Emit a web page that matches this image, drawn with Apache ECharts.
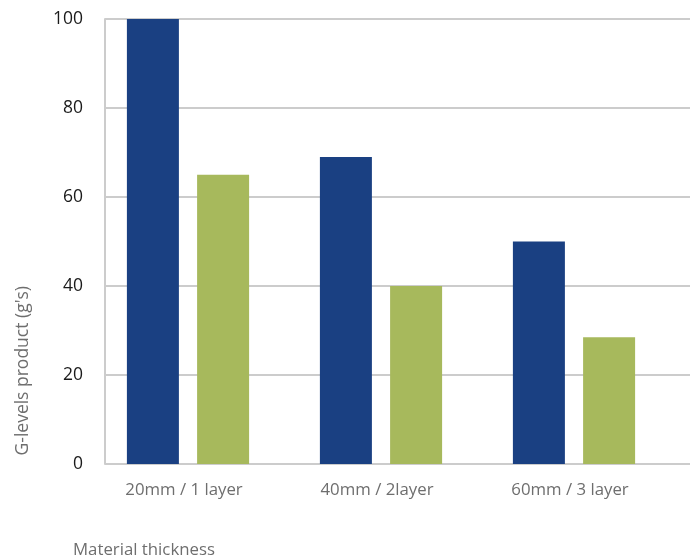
<!DOCTYPE html>
<html>
<head>
<meta charset="utf-8">
<script src="https://cdn.jsdelivr.net/npm/echarts@6/dist/echarts.min.js"></script>
<style>
html,body{margin:0;padding:0;background:#fff;}
#chart{width:694px;height:560px;}
</style>
</head>
<body>
<div id="chart"></div>
<script>
const categories = ['20mm / 1 layer', '40mm / 2layer', '60mm / 3 layer'];
const seriesA = [100, 69, 50];
const seriesB = [65, 40, 28.5];
const yTicks = [0, 20, 40, 60, 80, 100];
const yName = "G-levels product (g's)";
const xName = 'Material thickness';

const chart = echarts.init(document.getElementById('chart'));
const gridColor = '#cccccc';
chart.setOption({
  animation: false,
  grid: [
    {left: 105, right: 4, top: 19, bottom: 96},
    {left: 91.5, right: 23.5, top: 19, bottom: 96}
  ],
  xAxis: [
    {gridIndex: 0, type: 'category', data: categories, show: false},
    {gridIndex: 1, type: 'category', data: categories,
     axisLine: {show: false}, axisTick: {show: false},
     axisLabel: {color: '#6e6e6e', fontSize: 16.8, fontFamily: 'Open Sans', margin: 18, padding: [0, 8, 0, 0]}}
  ],
  yAxis: [
    {gridIndex: 0, type: 'value', min: yTicks[0], max: yTicks[yTicks.length - 1], interval: 20,
     axisLine: {show: true, lineStyle: {color: gridColor, width: 2}},
     axisTick: {show: false},
     splitLine: {lineStyle: {color: gridColor, width: 2}},
     axisLabel: {color: '#1a1a1a', fontSize: 17.5, fontFamily: 'Open Sans', margin: 22}},
    {gridIndex: 1, type: 'value', min: 0, max: 100, show: false}
  ],
  graphic: [
    {type: 'text', left: 14, top: 286, rotation: Math.PI / 2,
     style: {text: yName, fill: '#6e6e6e', font: '17.5px "Open Sans"'}}
  ],
  series: [
    {type: 'bar', xAxisIndex: 1, yAxisIndex: 1, data: seriesA, barWidth: 52, barGap: '35%',
     itemStyle: {color: '#1a4082'}},
    {type: 'bar', xAxisIndex: 1, yAxisIndex: 1, data: seriesB, barWidth: 52, barGap: '35%',
     itemStyle: {color: '#a7b95c'}}
  ],
  title: {text: xName, left: 73, top: 542, padding: 0,
    textStyle: {color: '#6e6e6e', fontSize: 16.8, fontWeight: 'normal', fontFamily: 'Open Sans'}}
});
</script>
</body>
</html>
